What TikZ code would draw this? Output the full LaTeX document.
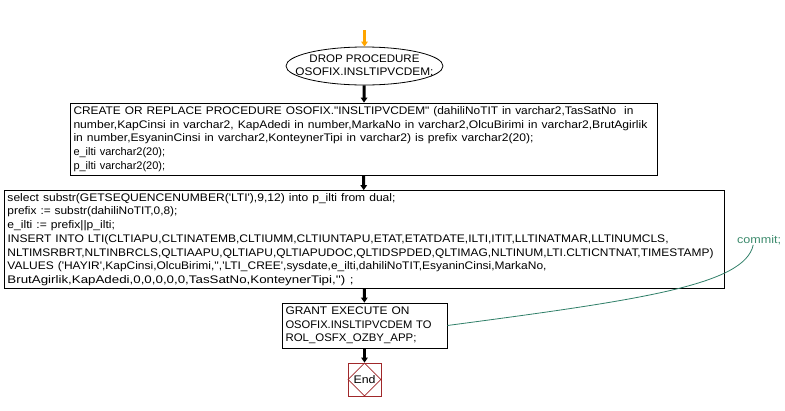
\documentclass[tikz,border=0pt]{standalone}
\usepackage{graphicx}
\usepackage{fontspec}
\setmainfont{Liberation Sans}[Ligatures=TeXOff]
\usetikzlibrary{shapes.geometric,arrows.meta}
\definecolor{flowgreen}{HTML}{2F7F68}
\definecolor{commitgreen}{HTML}{3C8A6C}
\definecolor{endred}{HTML}{A0282A}
\definecolor{startorange}{HTML}{FFA500}
\newcommand{\fitln}[2]{\resizebox{#1pt}{\height}{#2}}
\newcommand{\strln}[2]{\scalebox{#1}[1]{#2}}
\tikzset{
  every node/.style={font=\fontsize{11}{13.7}\selectfont, inner sep=0pt},
  stmt/.style={draw=black, line width=0.8pt, rectangle, align=left, inner xsep=3.5pt},
  flow/.style={line width=3pt, -{Triangle[width=6.5pt,length=5pt]}},
}
\begin{document}
\begin{tikzpicture}[x=1pt,y=-1pt]
\useasboundingbox (0,0) rectangle (785,410);
\coordinate (start) at (364.5,30);
\node[draw, line width=0.8pt, ellipse, inner xsep=-14pt, inner ysep=0pt, minimum width=157pt, minimum height=38pt, align=center] (drop) at (364.5,66)
{\fitln{110}{DROP PROCEDURE}\\\fitln{138}{OSOFIX.INSLTIPVCDEM;}};
\node[stmt, text width=580pt, minimum height=72pt] (create) at (363.5,139)
{\fitln{560}{CREATE OR REPLACE PROCEDURE OSOFIX."INSLTIPVCDEM" (dahiliNoTIT in varchar2,TasSatNo\ \ in}\\
\fitln{574}{number,KapCinsi in varchar2, KapAdedi in number,MarkaNo in varchar2,OlcuBirimi in varchar2,BrutAgirlik}\\
\fitln{460}{in number,EsyaninCinsi in varchar2,KonteynerTipi in varchar2) is prefix varchar2(20);}\\
\strln{1.0}{e\_ilti varchar2(20);}\\
\strln{1.0}{p\_ilti varchar2(20);}};
\node[stmt, text width=713pt, minimum height=98pt] (select) at (364,239.5)
{\fitln{388}{select substr(GETSEQUENCENUMBER('LTI'),9,12) into p\_ilti from dual;}\\
\strln{1.08}{prefix := substr(dahiliNoTIT,0,8);}\\
\strln{1.1}{e\_ilti := prefix||p\_ilti;}\\
\fitln{661}{INSERT INTO LTI(CLTIAPU,CLTINATEMB,CLTIUMM,CLTIUNTAPU,ETAT,ETATDATE,ILTI,ITIT,LLTINATMAR,LLTINUMCLS,}\\
\fitln{706}{NLTIMSRBRT,NLTINBRCLS,QLTIAAPU,QLTIAPU,QLTIAPUDOC,QLTIDSPDED,QLTIMAG,NLTINUM,LTI.CLTICNTNAT,TIMESTAMP)}\\
\fitln{539}{VALUES ('HAYIR',KapCinsi,OlcuBirimi,'','LTI\_CREE',sysdate,e\_ilti,dahiliNoTIT,EsyaninCinsi,MarkaNo,}\\
\fitln{346}{BrutAgirlik,KapAdedi,0,0,0,0,0,TasSatNo,KonteynerTipi,'') ;}};
\node[stmt, text width=158pt, minimum height=45pt] (grant) at (364.5,325.5)
{\fitln{124}{GRANT EXECUTE ON}\\\fitln{146}{OSOFIX.INSLTIPVCDEM TO}\\\fitln{131}{ROL\_OSFX\_OZBY\_APP;}};
\node[draw=endred, line width=0.8pt, minimum width=33pt, minimum height=33pt] (endbox) at (364.5,379.5) {};
\node[draw=endred, line width=0.8pt, diamond, minimum width=33pt, minimum height=33pt, aspect=1] (end) at (364.5,379.5) {\fitln{22}{End}};
\node[text=commitgreen, anchor=west] (commit) at (737,240) {\fitln{44}{commit;}};
\draw[flow, draw=startorange, fill=startorange] (start) -- (drop.north);
\draw[flow] (drop) -- (create);
\draw[flow] (create) -- (select);
\draw[flow] (select) -- (grant);
\draw[flow] (grant) -- (endbox);
\draw[flowgreen, line width=0.8pt] (grant.east) .. controls (640,300) and (745,285) .. ([xshift=-6pt]commit.south);
\end{tikzpicture}
\end{document}
